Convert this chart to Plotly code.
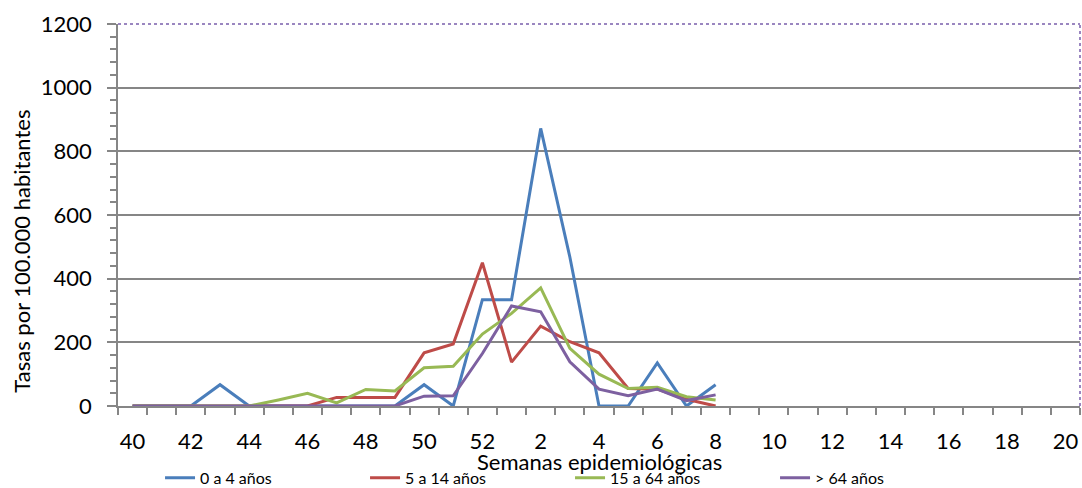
import plotly.graph_objects as go

weeks = [40, 41, 42, 43, 44, 45, 46, 47, 48, 49, 50, 51, 52,
         1, 2, 3, 4, 5, 6, 7, 8, 9, 10, 11, 12, 13, 14, 15, 16, 17, 18, 19, 20]

series_names = ["0 a 4 años", "5 a 14 años", "15 a 64 años", "> 64 años"]
colors = ["#4A7EBB", "#BE4B48", "#98B954", "#7D60A0"]

edad_0_4 = [0, 0, 0, 67, 0, 0, 0, 0, 0, 0, 67, 0, 334, 334, 872, 468, 0, 0, 135, 0, 67]
edad_5_14 = [0, 0, 0, 0, 0, 0, 0, 27, 27, 27, 167, 195, 450, 138, 251, 202, 167, 55, 53, 21, 0]
edad_15_64 = [0, 0, 0, 0, 0, 19, 40, 10, 52, 47, 120, 125, 226, 291, 371, 181, 100, 55, 59, 29, 19]
edad_64 = [0, 0, 0, 0, 0, 0, 0, 0, 0, 0, 31, 32, 165, 314, 296, 139, 53, 32, 53, 17, 35]

all_series = [edad_0_4, edad_5_14, edad_15_64, edad_64]

FONT = "Lato, Carlito, Calibri, sans-serif"

fig = go.Figure()
for name, vals, col in zip(series_names, all_series, colors):
    fig.add_trace(go.Scatter(
        x=list(range(len(vals))), y=vals, mode="lines", name=name,
        line=dict(color=col, width=3),
    ))

label_idx = list(range(0, len(weeks), 2))
fig.update_layout(
    width=1082, height=488,
    margin=dict(l=118, r=2, t=24, b=82, autoexpand=False),
    paper_bgcolor="white", plot_bgcolor="white",
    font=dict(family=FONT, color="#000000"),
    showlegend=True,
    legend=dict(
        orientation="h", x=0.0437, xanchor="left", y=-0.188, yanchor="middle",
        font=dict(size=16, family=FONT), entrywidth=160, entrywidthmode="pixels",
        bgcolor="rgba(0,0,0,0)",
    ),
    xaxis=dict(
        range=[-0.5, len(weeks) - 0.5],
        tickvals=label_idx, ticktext=[str(weeks[i]) for i in label_idx],
        ticks="", ticklabelstandoff=15,
        tickfont=dict(size=22, family=FONT),
        showgrid=False, zeroline=False,
        showline=True, linecolor="#868686", linewidth=1.5,
        minor=dict(tick0=-0.5, dtick=1, ticks="outside", ticklen=7,
                   tickcolor="#868686", tickwidth=1.5, showgrid=False),
    ),
    yaxis=dict(
        range=[0, 1200], tickvals=[0, 200, 400, 600, 800, 1000, 1200],
        ticks="outside", ticklen=9, tickcolor="#868686", tickwidth=1.5,
        ticklabelstandoff=11,
        tickfont=dict(size=22, family=FONT),
        showgrid=True, gridcolor="#868686", gridwidth=1.5,
        zeroline=False,
        showline=True, linecolor="#868686", linewidth=1.5,
        minor=dict(dtick=40, ticks="outside", ticklen=6,
                   tickcolor="#868686", tickwidth=1.5, showgrid=False),
    ),
    annotations=[
        dict(text="Semanas epidemiológicas", xref="paper", yref="paper",
             x=0.5, y=-0.144, xanchor="center", yanchor="middle",
             showarrow=False, font=dict(size=22, family=FONT)),
        dict(text="Tasas por 100.000 habitantes", xref="paper", yref="paper",
             x=-0.1, xanchor="center", y=0.406, yanchor="middle", textangle=-90,
             showarrow=False, font=dict(size=22, family=FONT)),
    ],
    shapes=[
        dict(type="line", xref="paper", yref="paper", x0=0, x1=1, y0=1, y1=1,
             line=dict(color="#9A86C0", width=2, dash="dot")),
        dict(type="line", xref="paper", yref="paper", x0=1, x1=1, y0=0, y1=1,
             line=dict(color="#9A86C0", width=2, dash="dot")),
    ],
)

fig.write_html(
    "out.html",
    config={"displayModeBar": False},
    post_script="document.body.style.margin='0';"
                "document.documentElement.style.overflow='hidden';",
)
